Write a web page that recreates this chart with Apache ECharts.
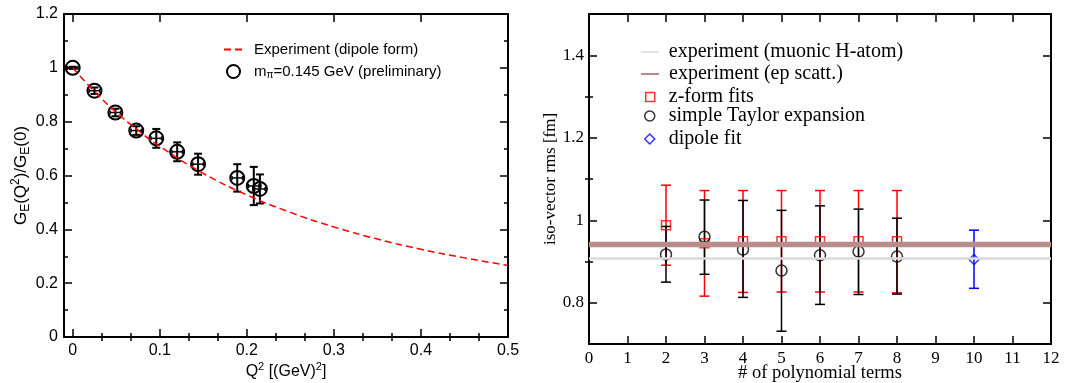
<!DOCTYPE html>
<html>
<head>
<meta charset="utf-8">
<script src="https://cdn.jsdelivr.net/npm/echarts@6.0.0/dist/echarts.min.js"></script>
<style>
  html, body { margin: 0; padding: 0; background: #fff; }
  #chart { width: 1076px; height: 383px; }
</style>
</head>
<body>
<div id="chart"></div>
<script>
// left panel: form factor vs Q^2
const dipoleQ2 = [0, 0.025, 0.05, 0.075, 0.1, 0.15, 0.2, 0.25, 0.3, 0.35, 0.4, 0.45, 0.5];
const dipoleGE = [1, 0.912, 0.835, 0.768, 0.708, 0.608, 0.528, 0.463, 0.409, 0.364, 0.326, 0.294, 0.266];
const latticeQ2 = [0, 0.025, 0.049, 0.073, 0.096, 0.120, 0.144, 0.189, 0.208, 0.215];
const latticeGE = [1.0, 0.915, 0.834, 0.767, 0.738, 0.688, 0.642, 0.591, 0.561, 0.550];
const latticeErr = [0.004, 0.012, 0.014, 0.016, 0.035, 0.035, 0.039, 0.051, 0.071, 0.054];
const latticeQ2Err = [0.006, 0.006, 0.006, 0.006, 0.006, 0.006, 0.006, 0.006, 0.006, 0.006];
const q2Ticks = [0, 0.1, 0.2, 0.3, 0.4, 0.5];

// right panel: rms radius vs number of terms
const zTerms = [2, 3, 4, 5, 6, 7, 8];
const zRms = [0.988, 0.944, 0.949, 0.949, 0.949, 0.949, 0.949];
const zLo = [0.891, 0.816, 0.825, 0.826, 0.826, 0.826, 0.824];
const zHi = [1.085, 1.072, 1.072, 1.072, 1.072, 1.072, 1.072];
const taylorTerms = [2, 3, 4, 5, 6, 7, 8];
const taylorRms = [0.917, 0.960, 0.929, 0.878, 0.915, 0.924, 0.912];
const taylorLo = [0.850, 0.869, 0.813, 0.731, 0.796, 0.820, 0.821];
const taylorHi = [0.985, 1.049, 1.048, 1.024, 1.035, 1.027, 1.005];
const dipoleTerms = [10];
const dipoleRms = [0.905];
const dipoleLo = [0.835];
const dipoleHi = [0.976];
const muonicRms = 0.907;
const epRms = 0.941;
const rmsMajor = [0.8, 1, 1.2, 1.4];
const rmsMinor = [0.9, 1.1, 1.3];

const SANS = 'Liberation Sans';
const SERIF = 'Liberation Serif';

const chart = echarts.init(document.getElementById('chart'));

function vBars(color, lw, cap) {
  return function (params, api) {
    const x = api.value(0);
    const a = api.coord([x, api.value(1)]);
    const b = api.coord([x, api.value(2)]);
    const st = { stroke: color, lineWidth: lw };
    return {
      type: 'group',
      children: [
        { type: 'line', shape: { x1: a[0], y1: a[1], x2: b[0], y2: b[1] }, style: st },
        { type: 'line', shape: { x1: a[0] - cap, y1: a[1], x2: a[0] + cap, y2: a[1] }, style: st },
        { type: 'line', shape: { x1: b[0] - cap, y1: b[1], x2: b[0] + cap, y2: b[1] }, style: st }
      ]
    };
  };
}

function hBars(color, lw, cap) {
  return function (params, api) {
    const y = api.value(2);
    const a = api.coord([api.value(0), y]);
    const b = api.coord([api.value(1), y]);
    const st = { stroke: color, lineWidth: lw };
    return {
      type: 'group',
      children: [
        { type: 'line', shape: { x1: a[0], y1: a[1], x2: b[0], y2: b[1] }, style: st },
        { type: 'line', shape: { x1: a[0], y1: a[1] - cap, x2: a[0], y2: a[1] + cap }, style: st },
        { type: 'line', shape: { x1: b[0], y1: b[1] - cap, x2: b[0], y2: b[1] + cap }, style: st }
      ]
    };
  };
}

const minorQ2 = [];
for (let i = 0; i < q2Ticks.length - 1; i++) {
  const step = (q2Ticks[i + 1] - q2Ticks[i]) / 3;
  minorQ2.push(q2Ticks[i] + step, q2Ticks[i] + 2 * step);
}

const blackLine = { lineStyle: { color: '#000', width: 2 }, onZero: false };
const tickStyle = { color: '#000', width: 1.5 };

function xAx(grid, pos, min, max, extra) {
  return Object.assign({
    gridIndex: grid, type: 'value', position: pos, min: min, max: max,
    axisLine: blackLine, splitLine: { show: false },
    axisTick: { inside: true, length: 8, lineStyle: tickStyle },
    axisLabel: { show: false }
  }, extra);
}
function yAx(grid, pos, min, max, extra) {
  return Object.assign({
    gridIndex: grid, type: 'value', position: pos, min: min, max: max,
    axisLine: blackLine, splitLine: { show: false },
    axisTick: { inside: true, length: 8, lineStyle: tickStyle },
    axisLabel: { show: false }
  }, extra);
}

const sansLabel = { color: '#000', fontFamily: SANS, fontSize: 16 };
const serifLabel = { color: '#000', fontFamily: SERIF, fontSize: 17 };
const hideDot = { color: 'transparent', borderColor: 'transparent', borderWidth: 0 };

const option = {
  animation: false,
  backgroundColor: '#fff',
  grid: [
    { left: 64, top: 14, width: 444, height: 323, outerBoundsMode: 'none', containLabel: false },
    { left: 589, top: 14, width: 462, height: 330, outerBoundsMode: 'none', containLabel: false }
  ],
  xAxis: [
    xAx(0, 'bottom', -0.01, 0.5, {
      axisTick: { inside: true, length: 8, lineStyle: tickStyle, customValues: q2Ticks },
      axisLabel: Object.assign({ customValues: q2Ticks, margin: 6, formatter: v => String(v) }, sansLabel),
      name: '{a|Q}{p|2}{a| [(GeV)}{p|2}{a|]}',
      nameLocation: 'middle', nameGap: 24, nameMoveOverlap: false,
      nameTextStyle: {
        rich: {
          a: { fontFamily: SANS, fontSize: 16, color: '#000' },
          p: { fontFamily: SANS, fontSize: 11, color: '#000', padding: [0, 0, 10, 0] }
        }
      }
    }),
    xAx(0, 'top', -0.01, 0.5, {
      axisTick: { inside: true, length: 8, lineStyle: tickStyle, customValues: q2Ticks }
    }),
    xAx(0, 'bottom', -0.01, 0.5, {
      axisLine: { show: false },
      axisTick: { inside: true, length: 4, lineStyle: tickStyle, customValues: minorQ2 }
    }),
    xAx(0, 'top', -0.01, 0.5, {
      axisLine: { show: false },
      axisTick: { inside: true, length: 4, lineStyle: tickStyle, customValues: minorQ2 }
    }),
    xAx(1, 'bottom', 0, 12, {
      interval: 1,
      axisLabel: Object.assign({ margin: 6 }, serifLabel),
      name: '# of polynomial terms', nameLocation: 'middle', nameGap: 20, nameMoveOverlap: false,
      nameTextStyle: { fontFamily: SERIF, fontSize: 18.5, color: '#000' }
    }),
    xAx(1, 'top', 0, 12, { interval: 1 })
  ],
  yAxis: [
    yAx(0, 'left', 0, 1.2, {
      interval: 0.2,
      minorTick: { show: true, splitNumber: 2, length: 4, lineStyle: tickStyle },
      axisLabel: Object.assign({ margin: 6 }, sansLabel),
      name: '{a|G}{s|E}{a|(Q}{p|2}{a|)/G}{s|E}{a|(0)}',
      nameLocation: 'middle', nameGap: 31,
      nameTextStyle: {
        rich: {
          a: { fontFamily: SANS, fontSize: 17, color: '#000' },
          s: { fontFamily: SANS, fontSize: 12, color: '#000', padding: [9, 0, 0, 0] },
          p: { fontFamily: SANS, fontSize: 12, color: '#000', padding: [0, 0, 11, 0] }
        }
      }
    }),
    yAx(0, 'right', 0, 1.2, {
      interval: 0.2,
      minorTick: { show: true, splitNumber: 2, length: 4, lineStyle: tickStyle }
    }),
    yAx(1, 'left', 0.7, 1.5, {
      axisTick: { inside: true, length: 8, lineStyle: tickStyle, customValues: rmsMajor },
      axisLabel: Object.assign({ customValues: rmsMajor, margin: 5, formatter: v => String(v) }, serifLabel),
      name: 'iso-vector rms [fm]', nameLocation: 'middle', nameGap: 26,
      nameTextStyle: { fontFamily: SERIF, fontSize: 17, color: '#000' }
    }),
    yAx(1, 'right', 0.7, 1.5, {
      axisTick: { inside: true, length: 8, lineStyle: tickStyle, customValues: rmsMajor }
    }),
    yAx(1, 'left', 0.7, 1.5, {
      axisLine: { show: false },
      axisTick: { inside: true, length: 4, lineStyle: tickStyle, customValues: rmsMinor }
    }),
    yAx(1, 'right', 0.7, 1.5, {
      axisLine: { show: false },
      axisTick: { inside: true, length: 4, lineStyle: tickStyle, customValues: rmsMinor }
    })
  ],
  legend: [
    {
      left: 223, top: 42, padding: 0, itemWidth: 18, itemHeight: 10,
      data: ['Experiment (dipole form)'],
      itemStyle: hideDot,
      textStyle: { fontFamily: SANS, fontSize: 15, color: '#000', padding: [0, 0, 0, 7] }
    },
    {
      left: 226, top: 64, padding: 0, itemWidth: 13, itemHeight: 13,
      data: ['lattice'],
      itemStyle: { color: 'transparent', borderColor: '#000', borderWidth: 2 },
      formatter: () => '{a|m}{s|\u03c0}{a|=0.145 GeV (preliminary)}',
      textStyle: {
        padding: [0, 0, 0, 9],
        rich: {
          a: { fontFamily: SANS, fontSize: 15, color: '#000' },
          s: { fontFamily: SANS, fontSize: 10, color: '#000', padding: [7, 0, 0, 0] }
        }
      }
    },
    {
      left: 640, top: 42, padding: 0, itemWidth: 18, itemHeight: 10,
      data: ['experiment (muonic H-atom)'],
      itemStyle: hideDot,
      lineStyle: { width: 1.5 },
      textStyle: { fontFamily: SERIF, fontSize: 20, color: '#000', padding: [0, 0, 0, 5] }
    },
    {
      left: 640, top: 64, padding: 0, itemWidth: 18, itemHeight: 10,
      data: ['experiment (ep scatt.)'],
      itemStyle: hideDot,
      lineStyle: { width: 2 },
      textStyle: { fontFamily: SERIF, fontSize: 20, color: '#000', padding: [0, 0, 0, 5] }
    },
    {
      left: 645, top: 87, padding: 0, itemWidth: 9, itemHeight: 9,
      data: ['z-form fits'],
      itemStyle: { color: 'transparent', borderColor: '#ff0000', borderWidth: 1.5 },
      textStyle: { fontFamily: SERIF, fontSize: 20, color: '#000', padding: [0, 0, 0, 9] }
    },
    {
      left: 644, top: 106, padding: 0, itemWidth: 10, itemHeight: 10,
      data: ['simple Taylor expansion'],
      itemStyle: { color: 'transparent', borderColor: '#000', borderWidth: 1.5 },
      textStyle: { fontFamily: SERIF, fontSize: 20, color: '#000', padding: [0, 0, 0, 9] }
    },
    {
      left: 644, top: 129, padding: 0, itemWidth: 10, itemHeight: 10,
      data: ['dipole fit'],
      itemStyle: { color: 'transparent', borderColor: '#0000ff', borderWidth: 1.5 },
      textStyle: { fontFamily: SERIF, fontSize: 20, color: '#000', padding: [0, 0, 0, 9] }
    }
  ],
  series: [
    {
      name: 'Experiment (dipole form)', type: 'line', smooth: true, symbol: 'none',
      xAxisIndex: 0, yAxisIndex: 0,
      data: dipoleQ2.map((q, i) => [q, dipoleGE[i]]),
      lineStyle: { color: '#ff0000', width: 1.5, type: [7, 4] },
      itemStyle: { color: '#ff0000' }
    },
    {
      type: 'custom', xAxisIndex: 0, yAxisIndex: 0,
      renderItem: hBars('#000', 1.5, 2),
      encode: { x: [0, 1], y: 2 },
      data: latticeQ2.map((q, i) => [q - latticeQ2Err[i], q + latticeQ2Err[i], latticeGE[i]])
    },
    {
      type: 'custom', xAxisIndex: 0, yAxisIndex: 0,
      renderItem: vBars('#000', 2, 4),
      encode: { x: 0, y: [1, 2] },
      data: latticeQ2.map((q, i) => [q, latticeGE[i] - latticeErr[i], latticeGE[i] + latticeErr[i]])
    },
    {
      name: 'lattice', type: 'scatter', xAxisIndex: 0, yAxisIndex: 0,
      symbol: 'circle', symbolSize: 14,
      itemStyle: { color: 'transparent', borderColor: '#000', borderWidth: 2, opacity: 1 },
      data: latticeQ2.map((q, i) => [q, latticeGE[i]])
    },
    {
      name: 'experiment (muonic H-atom)', type: 'line', symbol: 'none',
      xAxisIndex: 4, yAxisIndex: 2,
      data: [[0, muonicRms], [12, muonicRms]],
      lineStyle: { color: '#dadada', width: 2.5 },
      itemStyle: { color: '#dadada' }
    },
    {
      name: 'experiment (ep scatt.)', type: 'line', symbol: 'none',
      xAxisIndex: 4, yAxisIndex: 2,
      data: [[0, epRms], [12, epRms]],
      lineStyle: { color: '#b98c8c', width: 5.5 },
      itemStyle: { color: '#b98c8c' }
    },
    {
      type: 'custom', xAxisIndex: 4, yAxisIndex: 2,
      renderItem: vBars('#ff0000', 1.5, 5),
      encode: { x: 0, y: [1, 2] },
      data: zTerms.map((n, i) => [n, zLo[i], zHi[i]])
    },
    {
      name: 'z-form fits', type: 'scatter', xAxisIndex: 4, yAxisIndex: 2,
      symbol: 'rect', symbolSize: 9,
      itemStyle: { color: 'transparent', borderColor: '#ff0000', borderWidth: 1.5 },
      data: zTerms.map((n, i) => [n, zRms[i]])
    },
    {
      type: 'custom', xAxisIndex: 4, yAxisIndex: 2,
      renderItem: vBars('#000', 1.5, 5),
      encode: { x: 0, y: [1, 2] },
      data: taylorTerms.map((n, i) => [n, taylorLo[i], taylorHi[i]])
    },
    {
      name: 'simple Taylor expansion', type: 'scatter', xAxisIndex: 4, yAxisIndex: 2,
      symbol: 'circle', symbolSize: 11,
      itemStyle: { color: 'transparent', borderColor: '#000', borderWidth: 1.5 },
      data: taylorTerms.map((n, i) => [n, taylorRms[i]])
    },
    {
      type: 'custom', xAxisIndex: 4, yAxisIndex: 2,
      renderItem: vBars('#0000ff', 1.5, 5),
      encode: { x: 0, y: [1, 2] },
      data: dipoleTerms.map((n, i) => [n, dipoleLo[i], dipoleHi[i]])
    },
    {
      name: 'dipole fit', type: 'scatter', xAxisIndex: 4, yAxisIndex: 2,
      symbol: 'diamond', symbolSize: 10,
      itemStyle: { color: 'transparent', borderColor: '#0000ff', borderWidth: 1.5 },
      data: dipoleTerms.map((n, i) => [n, dipoleRms[i]])
    }
  ]
};

chart.setOption(option);
</script>
</body>
</html>
